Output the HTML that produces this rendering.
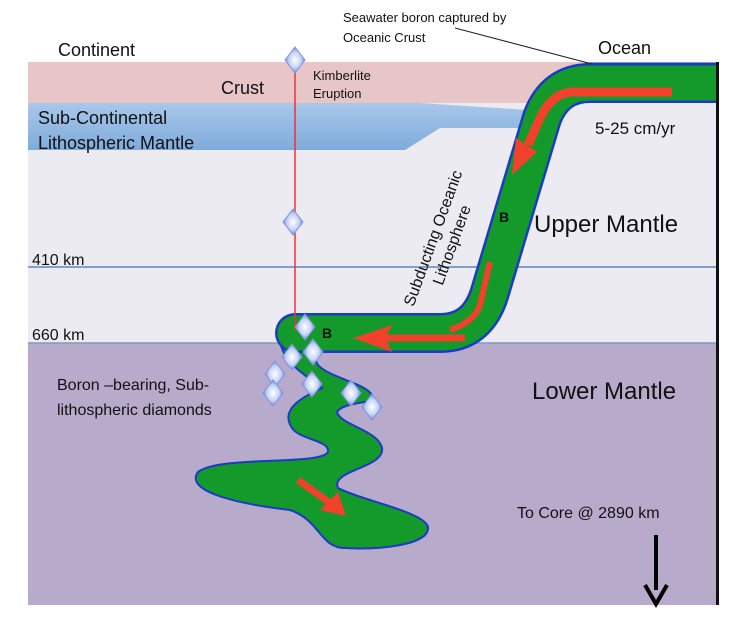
<!DOCTYPE html>
<html><head><meta charset="utf-8"><style>
html,body{margin:0;padding:0;background:#fff;}
svg{display:block;}
text{font-family:"Liberation Sans",sans-serif;fill:#111;}
</style></head><body>
<svg width="754" height="636" viewBox="0 0 754 636" xmlns="http://www.w3.org/2000/svg">
<defs>
<linearGradient id="scl" x1="0" y1="0" x2="0" y2="1">
<stop offset="0" stop-color="#a9c8ea"/><stop offset="1" stop-color="#7fabdc"/></linearGradient>
<radialGradient id="dia" cx="0.5" cy="0.5" r="0.5">
<stop offset="0" stop-color="#ffffff"/><stop offset="0.6" stop-color="#c6d3f5"/><stop offset="1" stop-color="#6d84dc"/></radialGradient>
<symbol id="d" viewBox="-10 -13 20 26" overflow="visible">
<path d="M0,-13 L10,0 L0,13 L-10,0Z" fill="url(#dia)" stroke="#7f95e0" stroke-width="1"/>
</symbol>
</defs>
<rect x="28" y="62" width="688" height="281" fill="#ecebf2"/>
<rect x="28" y="343" width="688" height="262" fill="#b8aaca"/>
<rect x="28" y="62" width="560" height="41" fill="#e8c6c8"/>
<path d="M28,103 L420,103 L560,112 L560,128 L440,128 L405,150 L28,150Z" fill="url(#scl)"/>
<line x1="28" y1="267" x2="716" y2="267" stroke="#5c86c0" stroke-width="1.5"/>
<line x1="28" y1="343" x2="716" y2="343" stroke="#7a9cc0" stroke-width="1.5"/>
<!-- plume -->
<path d="M280,340 C282,360 300,372 322,388 C300,398 280,410 292,428 C300,440 330,440 328,452 C320,466 220,455 198,472 C185,490 230,503 290,510 C320,520 320,548 345,548 C380,550 430,545 428,527 C425,512 360,500 338,488 C330,470 385,468 382,448 C378,430 340,425 337,412 C345,400 380,405 372,395 C365,383 330,378 318,365 C312,352 300,345 290,340Z" fill="#139a2a" stroke="#1a3bc4" stroke-width="2"/>
<!-- slab -->
<path d="M716,83 L590,83 Q555,83 542,118 L490,292 Q478,333 440,333 L295,333" fill="none" stroke="#1a3bc4" stroke-width="40" stroke-linejoin="round"/>
<circle cx="295" cy="333" r="20" fill="#1a3bc4"/>
<line x1="585" y1="65" x2="716" y2="65" stroke="#1a3bc4" stroke-width="5"/>
<path d="M716,83 L590,83 Q555,83 542,118 L490,292 Q478,333 440,333 L295,333" fill="none" stroke="#139a2a" stroke-width="35" stroke-linejoin="round"/>
<circle cx="295" cy="333" r="17.5" fill="#139a2a"/>
<rect x="716" y="62" width="3" height="543" fill="#111"/>
<!-- red arrows -->
<path d="M672,92 L572,92 Q552,93 540,118 L528,145" fill="none" stroke="#f2412b" stroke-width="9"/>
<path d="M512,175 L516,138 L537,152Z" fill="#f2412b"/>
<path d="M490,262 L480,305 Q474,322 450,330" fill="none" stroke="#f2412b" stroke-width="6"/>
<path d="M465,338 L385,338" stroke="#f2412b" stroke-width="7"/>
<path d="M353,338 L392,325 L385,338 L392,352Z" fill="#f2412b"/>
<path d="M298,480 L330,503" stroke="#f2412b" stroke-width="7"/>
<path d="M346,516 L320,510 L338,492Z" fill="#f2412b"/>
<line x1="295" y1="60" x2="295" y2="330" stroke="#e33" stroke-width="1.5"/>
<use href="#d" x="285" y="47" width="20" height="26"/>
<use href="#d" x="283" y="209" width="20" height="26"/>
<use href="#d" x="295" y="314" width="20" height="26"/>
<use href="#d" x="282" y="344" width="20" height="26"/>
<use href="#d" x="303" y="339" width="20" height="26"/>
<use href="#d" x="265" y="361" width="20" height="26"/>
<use href="#d" x="302" y="371" width="20" height="26"/>
<use href="#d" x="263" y="380" width="20" height="26"/>
<use href="#d" x="341" y="380" width="20" height="26"/>
<use href="#d" x="362" y="394" width="20" height="26"/>
<line x1="455" y1="28" x2="592" y2="64" stroke="#222" stroke-width="1"/>
<text x="58" y="56" font-size="18">Continent</text>
<text x="598" y="54" font-size="18">Ocean</text>
<text x="343" y="22" font-size="13">Seawater boron captured by</text>
<text x="343" y="42" font-size="13">Oceanic Crust</text>
<text x="221" y="94" font-size="18">Crust</text>
<text x="313" y="80" font-size="13">Kimberlite</text>
<text x="313" y="98" font-size="13">Eruption</text>
<text x="38" y="124" font-size="18">Sub-Continental</text>
<text x="38" y="149" font-size="18">Lithospheric Mantle</text>
<text x="595" y="134" font-size="17">5-25 cm/yr</text>
<text x="534" y="232" font-size="24">Upper Mantle</text>
<text x="32" y="265" font-size="16">410 km</text>
<text x="32" y="340" font-size="16">660 km</text>
<text x="532" y="399" font-size="24">Lower Mantle</text>
<text x="57" y="390" font-size="16">Boron –bearing, Sub-</text>
<text x="57" y="415" font-size="16">lithospheric  diamonds</text>
<text x="517" y="518" font-size="16">To Core @ 2890 km</text>
<text x="499" y="222" font-size="14" font-weight="bold">B</text>
<text x="322" y="338" font-size="14" font-weight="bold">B</text>
<g transform="translate(438,240) rotate(-70)">
<text x="0" y="0" font-size="16" text-anchor="middle">Subducting Oceanic</text>
<text x="0" y="20" font-size="16" text-anchor="middle">Lithosphere</text>
</g>
<line x1="656" y1="535" x2="656" y2="590" stroke="#000" stroke-width="4"/>
<path d="M645,585 L656,604 L667,585" fill="none" stroke="#000" stroke-width="4"/>
</svg>
</body></html>
